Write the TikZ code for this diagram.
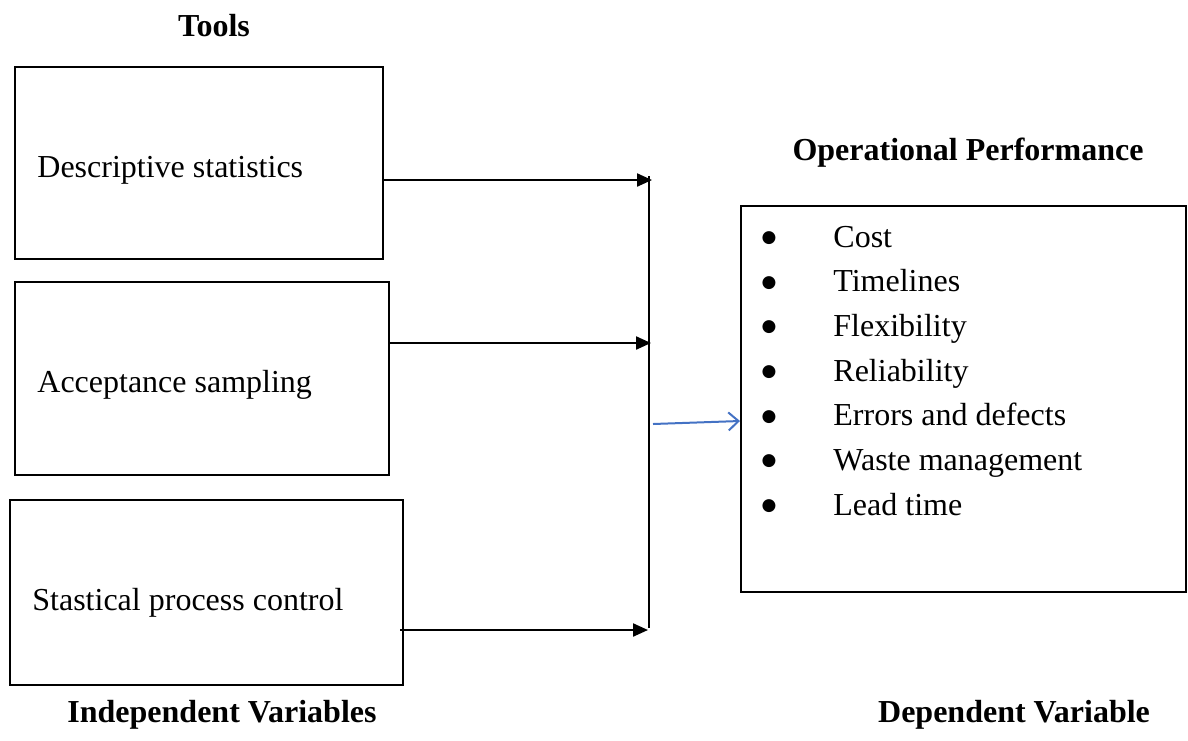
\documentclass[tikz,border=0pt]{standalone}
\usepackage{fontspec}
\setmainfont{Liberation Serif}
\newfontfamily\dejavu{DejaVu Sans}
\usetikzlibrary{arrows.meta}
\begin{document}
\begin{tikzpicture}[x=0.5pt,y=-0.5pt,
  font=\fontsize{16}{19}\selectfont,
  box/.style={draw,line width=1pt,inner sep=0pt},
  title/.style={font=\fontsize{16}{19}\selectfont\bfseries,anchor=base,inner sep=0pt},
  lbl/.style={anchor=base west,inner sep=0pt},
  bul/.style={inner sep=0pt,font=\dejavu\fontsize{8.5}{8.5}\selectfont},
  conn/.style={line width=1.1pt,-{Triangle[length=7.5pt,width=6.5pt]}},
  bluearrow/.style={color={rgb,255:red,68;green,114;blue,196},line width=1pt,-{Straight Barb[length=5pt,width=9pt,line width=1pt]}}
]
\useasboundingbox (0,0) rectangle (1188,740);
% titles
\node[title] (tools) at (214,36) {Tools};
\node[title] (op) at (968,160) {Operational Performance};
\node[title] (iv) at (222,722) {Independent Variables};
\node[title] (dv) at (1014,722) {Dependent Variable};
% left boxes
\node[box,minimum width=184pt,minimum height=96pt] (b1) at (199,163) {};
\node[box,minimum width=187pt,minimum height=96.5pt] (b2) at (202,378.5) {};
\node[box,minimum width=196.5pt,minimum height=92.5pt] (b3) at (206.5,592.5) {};
\node[lbl] (t1) at (37,177) {Descriptive statistics};
\node[lbl] (t2) at (37,392) {Acceptance sampling};
\node[lbl] (t3) at (32,610) {Stastical process control};
% junction line
\coordinate (top) at (649,176);
\coordinate (j1) at (652,180);
\coordinate (j2) at (651,343);
\coordinate (j3) at (648,630);
\coordinate (bot) at (649,628);
\draw[line width=1pt] (top) -- (bot);
\draw[conn] (b1.east |- j1) -- (j1);
\draw[conn] (b2.east |- j2) -- (j2);
\draw[conn] ([xshift=-2pt]b3.east |- j3) -- (j3);
% right box
\node[box,minimum width=222.5pt,minimum height=193pt] (rb) at (963.5,399) {};
\coordinate (bs) at (653,424);
\draw[bluearrow] (bs) -- (rb.west |- 0,421);
% bullets
\foreach \t [count=\i] in {Cost,Timelines,Flexibility,Reliability,Errors and defects,Waste management,Lead time}{
  \node[bul] (bul\i) at (769,{238+(\i-1)*44.7}) {●};
  \node[lbl] (it\i) at (833,{247+(\i-1)*44.7}) {\t};
}
\end{tikzpicture}
\end{document}
